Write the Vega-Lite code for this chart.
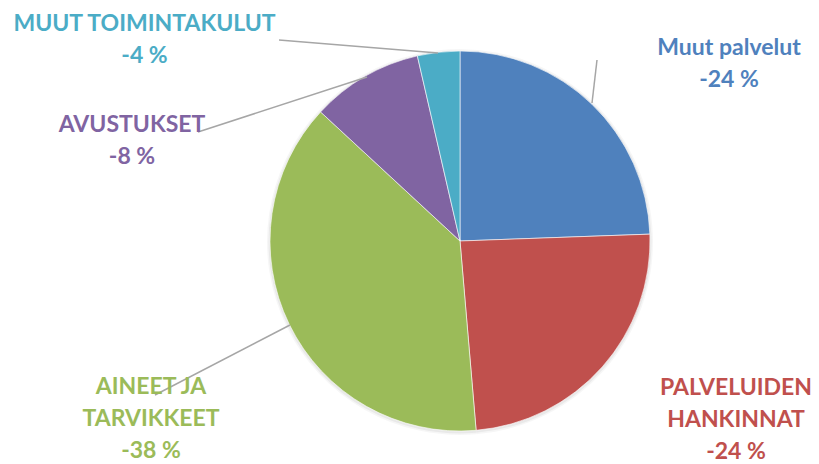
{
  "$schema": "https://vega.github.io/schema/vega-lite/v6.json",
  "width": 718,
  "height": 446,
  "autosize": {"type": "none"},
  "padding": {"left": 101, "top": 18, "right": 0, "bottom": 0},
  "background": "white",
  "config": {"view": {"stroke": null}},
  "datasets": {
    "slices": [
      {"name": "Muut palvelut", "value": 24.4, "order": 1},
      {"name": "Palveluiden hankinnat", "value": 24.2, "order": 2},
      {"name": "Aineet ja tarvikkeet", "value": 38.2, "order": 3},
      {"name": "Avustukset", "value": 9.5, "order": 4},
      {"name": "Muut toimintakulut", "value": 3.6, "order": 5}
    ],
    "leaders": [
      {"name": "Muut toimintakulut", "x": -181, "y": 201, "x2": -22, "y2": 188},
      {"name": "Avustukset", "x": -262, "y": 109, "x2": -93, "y2": 164},
      {"name": "Aineet ja tarvikkeet", "x": -305, "y": -154, "x2": -170, "y2": -84},
      {"name": "Muut palvelut", "x": 137, "y": 181, "x2": 132, "y2": 138}
    ],
    "labels": [
      {"name": "Muut toimintakulut", "text": "MUUT TOIMINTAKULUT\n-4 %", "x": -315.5, "y": 210.3},
      {"name": "Avustukset", "text": "AVUSTUKSET\n-8 %", "x": -328, "y": 109.3},
      {"name": "Muut palvelut", "text": "Muut palvelut\n-24 %", "x": 269, "y": 186},
      {"name": "Palveluiden hankinnat", "text": "PALVELUIDEN\nHANKINNAT\n-24 %", "x": 276, "y": -154},
      {"name": "Aineet ja tarvikkeet", "text": "AINEET JA\nTARVIKKEET\n-38 %", "x": -309, "y": -153}
    ]
  },
  "layer": [
    {
      "data": {"name": "slices"},
      "mark": {"type": "arc", "radius": 193, "color": "#000000", "opacity": 0.035, "yOffset": 1},
      "encoding": {
        "theta": {"field": "value", "type": "quantitative", "stack": true},
        "order": {"field": "order", "type": "quantitative"}
      }
    },
    {
      "data": {"name": "slices"},
      "mark": {"type": "arc", "radius": 191.5, "color": "#000000", "opacity": 0.05, "yOffset": 1},
      "encoding": {
        "theta": {"field": "value", "type": "quantitative", "stack": true},
        "order": {"field": "order", "type": "quantitative"}
      }
    },
    {
      "data": {"name": "slices"},
      "mark": {"type": "arc", "radius": 190, "stroke": "#ffffff", "strokeWidth": 0.6},
      "encoding": {
        "theta": {"field": "value", "type": "quantitative", "stack": true},
        "order": {"field": "order", "type": "quantitative"},
        "color": {
          "field": "name",
          "type": "nominal",
          "scale": {
            "domain": ["Muut palvelut", "Palveluiden hankinnat", "Aineet ja tarvikkeet", "Avustukset", "Muut toimintakulut"],
            "range": ["#4F81BD", "#C0504D", "#9BBB59", "#8064A2", "#4BACC6"]
          },
          "legend": null
        }
      }
    },
    {
      "data": {"name": "leaders"},
      "mark": {"type": "rule", "color": "#A6A6A6", "strokeWidth": 1.5},
      "encoding": {
        "x": {"field": "x", "type": "quantitative", "scale": {"domain": [-359, 359], "nice": false, "zero": false}, "axis": null},
        "y": {"field": "y", "type": "quantitative", "scale": {"domain": [-223, 223], "nice": false, "zero": false}, "axis": null},
        "x2": {"field": "x2"},
        "y2": {"field": "y2"}
      }
    },
    {
      "data": {"name": "labels"},
      "mark": {"type": "text", "font": "Lato", "fontWeight": "bold", "fontSize": 23, "align": "center", "baseline": "alphabetic", "lineBreak": "\n", "lineHeight": 32},
      "encoding": {
        "x": {"field": "x", "type": "quantitative", "scale": {"domain": [-359, 359], "nice": false, "zero": false}, "axis": null},
        "y": {"field": "y", "type": "quantitative", "scale": {"domain": [-223, 223], "nice": false, "zero": false}, "axis": null},
        "text": {"field": "text", "type": "nominal"},
        "color": {"field": "name", "type": "nominal", "legend": null}
      }
    }
  ]
}
